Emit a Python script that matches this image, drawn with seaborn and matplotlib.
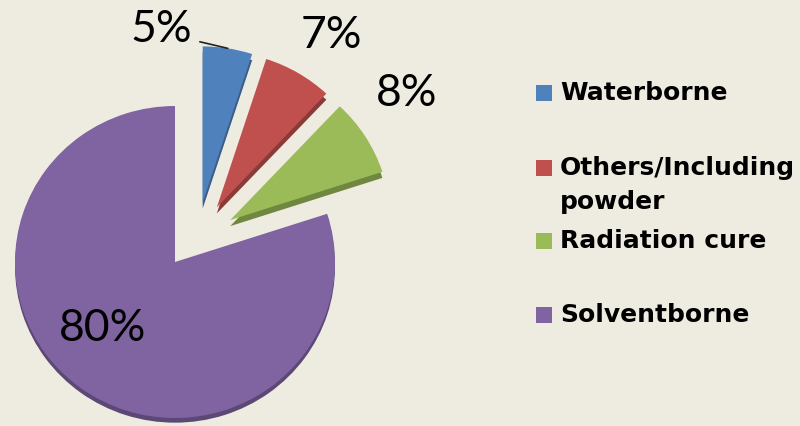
import numpy as np
import matplotlib
matplotlib.use("Agg")
import matplotlib.pyplot as plt
import seaborn as sns
from matplotlib.patches import Rectangle

# Market share of coating technologies (percent)
categories = ["Waterborne", "Others/Including\npowder", "Radiation cure", "Solventborne"]
shares = [5, 7, 8, 80]
slice_colors = ["#4F81BD", "#C0504D", "#9BBB59", "#8064A2"]

# layout
BG = "#EEECE1"
W_PX, H_PX = 800, 426
CENTER_PX = (175, 262)          # centre of the big slice, pixels from top-left
RX_PX, RY_PX = 160, 156         # slightly flattened (tilted) pie
small_group_shift = (0.134, 0.135)
small_explode = 0.25
depth = 0.03                    # side thickness of the tilted pie
label_radius = [1.14, 1.31, 1.37, 0.62]
label_turn_deg = [22, -2.4, 4, -10.8]
legend_rows_px = [93, 168, 241, 315]

sns.set_style("white")
palette = sns.color_palette(slice_colors)
side_palette = [tuple(c * 0.72 for c in col) for col in palette]

fig = plt.figure(figsize=(W_PX / 100, H_PX / 100), dpi=100, facecolor=BG)
ax = fig.add_axes([0, 0, 1, 1])
ax.set_facecolor(BG)


def draw_pie(center, explode, colors, show, z):
    wedges, _ = ax.pie(shares, explode=explode, colors=colors, startangle=90,
                       counterclock=False, center=center,
                       wedgeprops=dict(linewidth=0))
    for w, s in zip(wedges, show):
        w.set_visible(s)
        w.set_zorder(z)
    return wedges


small_show = [True, True, True, False]
big_show = [False, False, False, True]
exp_small = [small_explode] * 3 + [0]
cx, cy = small_group_shift

# side faces first, then top faces
draw_pie((0, -depth), None, side_palette, big_show, 1)
draw_pie((cx, cy - depth * 1.3), exp_small, side_palette, small_show, 1)
big = draw_pie((0, 0), None, palette, big_show, 2)
small = draw_pie((cx, cy), exp_small, palette, small_show, 2)
wedges = small[:3] + big[3:]

# percentage labels placed around each wedge
for i, (w, v) in enumerate(zip(wedges, shares)):
    mid = np.deg2rad((w.theta1 + w.theta2) / 2 + label_turn_deg[i])
    x = w.center[0] + label_radius[i] * np.cos(mid)
    y = w.center[1] + label_radius[i] * np.sin(mid)
    ax.text(x, y, f"{v}%", ha="center", va="center", fontsize=32,
            family="Lato", color="black", zorder=5)

# leader line for the smallest slice
w0 = wedges[0]
a_mid = np.deg2rad((w0.theta1 + w0.theta2) / 2)
a_edge = np.deg2rad(w0.theta2 + 1)
ax.plot([w0.center[0] + 1.03 * np.cos(a_edge), w0.center[0] + 1.0 * np.cos(a_mid)],
        [w0.center[1] + 1.03 * np.sin(a_edge), w0.center[1] + 1.0 * np.sin(a_mid)],
        color="#222222", lw=1.2, zorder=5)

# map data units onto pixels (tilted pie: different x/y scale)
ax.set_aspect("auto")
ax.set_xlim(-CENTER_PX[0] / RX_PX, (W_PX - CENTER_PX[0]) / RX_PX)
ax.set_ylim(-(H_PX - CENTER_PX[1]) / RY_PX, CENTER_PX[1] / RY_PX)
ax.axis("off")

# legend
for label, col, row in zip(categories, palette, legend_rows_px):
    yf = 1 - row / H_PX
    fig.patches.append(Rectangle((536 / W_PX, yf - 8 / H_PX), 16 / W_PX, 16 / H_PX,
                                 transform=fig.transFigure, facecolor=col,
                                 edgecolor="none"))
    fig.text(560 / W_PX, yf + 12 / H_PX, label, ha="left", va="top",
             fontsize=18, fontweight="bold", family="DejaVu Sans",
             linespacing=1.5, color="black")

fig.savefig("out.png", dpi=100, facecolor=BG)
